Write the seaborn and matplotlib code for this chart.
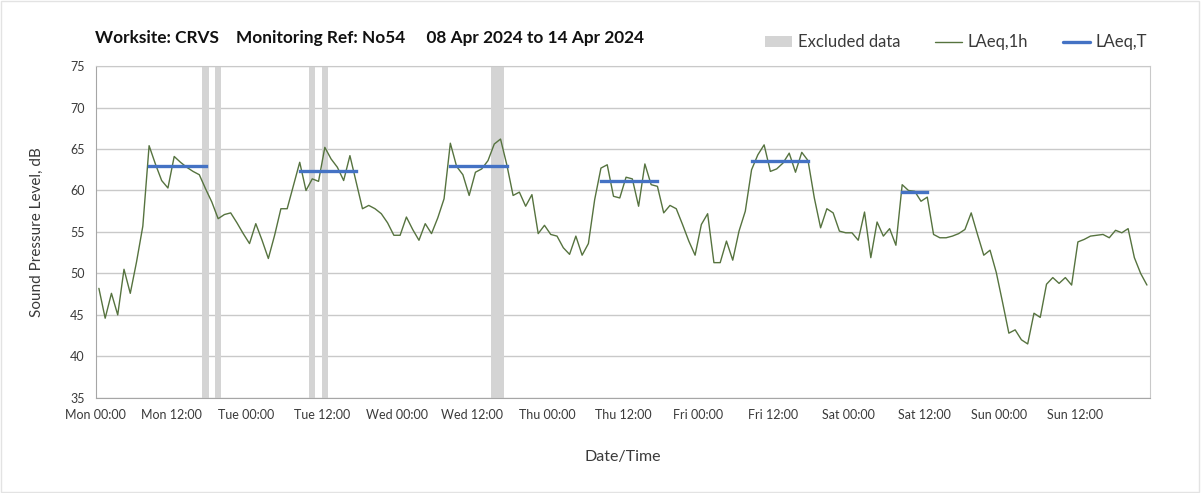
import numpy as np
import pandas as pd
import matplotlib
matplotlib.use("Agg")
import matplotlib.pyplot as plt
import matplotlib.dates as mdates
from matplotlib.patches import Patch
from matplotlib.lines import Line2D
import seaborn as sns

# hourly LAeq,1h readings, Mon 08 Apr 2024 00:00 onwards
laeq_1h = [
    48.2, 44.6, 47.6, 45.0, 50.5, 47.6, 51.4, 55.7, 65.4, 63.2, 61.2, 60.3,
    64.1, 63.4, 62.8, 62.3, 61.9, 60.2, 58.6, 56.6, 57.1, 57.3, 56.1, 54.8,
    53.6, 56.0, 54.0, 51.8, 54.6, 57.8, 57.8, 60.6, 63.4, 60.0, 61.4, 61.1,
    65.2, 63.8, 62.8, 61.2, 64.2, 61.0, 57.8, 58.2, 57.8, 57.2, 56.1, 54.6,
    54.6, 56.8, 55.3, 54.0, 56.0, 54.8, 56.7, 59.0, 65.7, 62.9, 61.9, 59.4,
    62.2, 62.6, 63.6, 65.6, 66.2, 63.1, 59.4, 59.8, 58.1, 59.5, 54.8, 55.8,
    54.7, 54.5, 53.1, 52.3, 54.5, 52.2, 53.6, 58.9, 62.7, 63.1, 59.3, 59.1,
    61.6, 61.4, 58.1, 63.2, 60.7, 60.5, 57.3, 58.2, 57.8, 55.9, 53.9, 52.2,
    55.9, 57.2, 51.3, 51.3, 53.9, 51.6, 55.1, 57.5, 62.5, 64.3, 65.5, 62.3,
    62.6, 63.3, 64.5, 62.2, 64.6, 63.6, 59.1, 55.5, 57.8, 57.3, 55.1, 54.9,
    54.9, 54.0, 57.4, 51.9, 56.2, 54.5, 55.4, 53.4, 60.7, 60.0, 59.9, 58.7,
    59.2, 54.7, 54.3, 54.3, 54.5, 54.8, 55.3, 57.3, 54.7, 52.2, 52.8, 50.1,
    46.5, 42.8, 43.2, 42.0, 41.5, 45.2, 44.7, 48.7, 49.5, 48.8, 49.5, 48.6,
    53.8, 54.1, 54.5, 54.6, 54.7, 54.3, 55.2, 54.9, 55.4, 51.9, 50.0, 48.6,
]

# LAeq,T periods (start / end of hourly intervals) and values
period_start = ["2024-04-08 08:00", "2024-04-09 08:00", "2024-04-10 08:00",
                "2024-04-11 08:00", "2024-04-12 08:00", "2024-04-13 08:00"]
period_end = ["2024-04-08 18:00", "2024-04-09 18:00", "2024-04-10 18:00",
              "2024-04-11 18:00", "2024-04-12 18:00", "2024-04-13 13:00"]
laeq_t = [63.0, 62.4, 63.0, 61.2, 63.6, 59.8]

# excluded data windows
excl_start = ["2024-04-08 17:00", "2024-04-08 19:00", "2024-04-09 10:00",
              "2024-04-09 12:00", "2024-04-10 15:00"]
excl_end = ["2024-04-08 18:00", "2024-04-08 20:00", "2024-04-09 11:00",
            "2024-04-09 13:00", "2024-04-10 17:00"]

title = "Worksite: CRVS    Monitoring Ref: No54     08 Apr 2024 to 14 Apr 2024"

GREEN = "#56733f"
BLUE = "#4472c4"
GREY = "#d4d4d4"
TXT = "#3a3a3a"

half = pd.Timedelta(minutes=30)
df = pd.DataFrame({
    "time": pd.date_range("2024-04-08 00:00", periods=len(laeq_1h), freq="h") + half,
    "LAeq,1h": laeq_1h,
})

sns.set_style("white")
plt.rcParams["font.family"] = ["Lato", "DejaVu Sans"]

fig = plt.figure(figsize=(12.03, 4.93), dpi=100)
ax = fig.add_axes([0.0796, 0.193, 0.8764, 0.673])

for s, e in zip(excl_start, excl_end):
    ax.axvspan(pd.Timestamp(s), pd.Timestamp(e), color=GREY, lw=0, zorder=1)

sns.lineplot(data=df, x="time", y="LAeq,1h", ax=ax, color=GREEN, lw=1.0, zorder=3)

for s, e, v in zip(period_start, period_end, laeq_t):
    seg = pd.DataFrame({"time": [pd.Timestamp(s) + half, pd.Timestamp(e) - half],
                        "val": [v, v]})
    sns.lineplot(data=seg, x="time", y="val", ax=ax, color=BLUE, lw=2.4,
                 solid_capstyle="projecting", zorder=4)

ax.set_xlim(pd.Timestamp("2024-04-08 00:00"), pd.Timestamp("2024-04-15 00:00"))
ax.set_ylim(35, 75)
ax.set_yticks(np.arange(35, 76, 5))

ax.xaxis.set_major_locator(mdates.HourLocator(byhour=[0, 12]))
ax.xaxis.set_minor_locator(mdates.DayLocator())
ticks = list(ax.get_xticks())
ax.set_xticks(ticks)
ax.set_xticklabels([mdates.num2date(t).strftime("%a %H:%M") for t in ticks[:-1]] + [""])

ax.grid(axis="y", color="#c9c9c9", lw=1.0)
ax.grid(axis="x", which="minor", color="#dcdcdc", lw=1.0)
ax.grid(axis="x", which="major", visible=False)
ax.set_axisbelow(True)

for side in ["top", "right"]:
    ax.spines[side].set_color("#c9c9c9")
for side in ["left", "bottom"]:
    ax.spines[side].set_color("#a6a6a6")

ax.tick_params(axis="both", which="major", length=4, width=1, color="#a6a6a6",
               labelsize=9, labelcolor=TXT, pad=4)
ax.tick_params(axis="x", which="minor", length=0)

ax.set_xlabel("Date/Time", fontsize=11.5, color=TXT, labelpad=21)
ax.set_ylabel("Sound Pressure Level, dB", fontsize=11, color=TXT, labelpad=19)

fig.text(0.079, 0.922, title, fontsize=12.4, fontweight="bold", color="#111111",
         va="center", ha="left")

handles = [
    Patch(facecolor=GREY, edgecolor="none", label="Excluded data"),
    Line2D([], [], color=GREEN, lw=1.0, label="LAeq,1h"),
    Line2D([], [], color=BLUE, lw=2.4, label="LAeq,T"),
]
fig.legend(handles=handles, loc="center right", bbox_to_anchor=(0.966, 0.914),
           ncol=3, frameon=False, fontsize=12, handlelength=1.6, handletextpad=0.35,
           columnspacing=2.1, labelcolor=TXT)

fig.patches.append(plt.Rectangle((0.001, 0.002), 0.996, 0.996, transform=fig.transFigure,
                                 fill=False, edgecolor="#e3e3e3", lw=1))

fig.savefig("out.png", dpi=100)
